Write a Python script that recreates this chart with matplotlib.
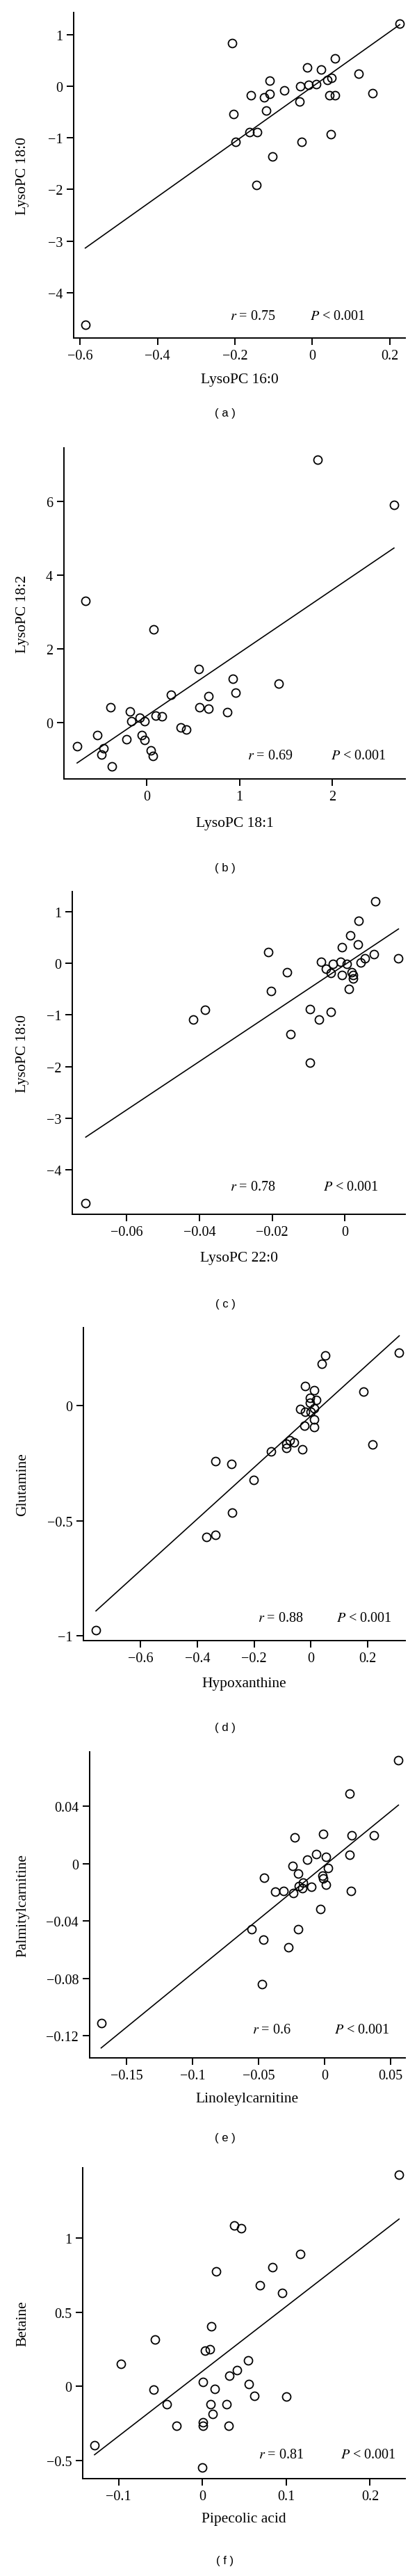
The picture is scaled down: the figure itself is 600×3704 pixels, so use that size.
import numpy as np
import matplotlib.pyplot as plt
from matplotlib.ticker import FuncFormatter

plt.rcParams['font.family'] = ['Liberation Serif', 'DejaVu Serif']
plt.rcParams['mathtext.fontset'] = 'stix'

# (a) LysoPC 16:0 vs LysoPC 18:0
a_x = [0.226, -0.208, 0.059, -0.0125, 0.023, 0.120, 0.049, 0.038, -0.110, 0.010,
       -0.010, -0.031, -0.072, -0.158, -0.111, -0.125, 0.044, 0.059, 0.156, -0.033,
       -0.120, -0.203, -0.163, -0.142, -0.199, -0.028, 0.047, -0.103, -0.144, -0.587]
a_y = [1.207, 0.839, 0.539, 0.363, 0.326, 0.244, 0.166, 0.114, 0.109, 0.036,
       0.026, -0.005, -0.088, -0.171, -0.155, -0.223, -0.171, -0.171, -0.135, -0.295,
       -0.472, -0.534, -0.886, -0.896, -1.078, -1.078, -0.927, -1.363, -1.917, -4.622]
a_fit = (5.32, -0.012)
a_r = '0.75'

# (b) LysoPC 18:1 vs LysoPC 18:2
b_x = [1.844, 2.668, -0.662, 0.075, 0.558, 0.925, 1.422, 0.960, 0.263, 0.665,
       -0.390, 0.566, 0.668, -0.185, 0.867, -0.081, 0.098, 0.165, -0.168, -0.026,
       0.367, 0.422, -0.535, -0.058, -0.223, -0.026, -0.754, -0.471, 0.040, -0.494,
       0.061, -0.376]
b_y = [7.135, 5.898, 3.295, 2.524, 1.447, 1.178, 1.055, 0.807, 0.749, 0.713,
       0.415, 0.415, 0.364, 0.291, 0.276, 0.131, 0.175, 0.160, 0.029, 0.029,
       -0.138, -0.189, -0.342, -0.342, -0.458, -0.480, -0.640, -0.713, -0.764, -0.880,
       -0.909, -1.200]
b_fit = (1.705, 0.183)
b_r = '0.69'

# (c) LysoPC 22:0 vs LysoPC 18:0
c_x = [0.00824, 0.00368, 0.00147, 0.00346, -0.00088, -0.0211, 0.00787, 0.0147, 0.0055, -0.00662,
       -0.00125, -0.0033, 0.00044, 0.0044, -0.0053, -0.0039, -0.0008, 0.0018, 0.0022, 0.0022,
       -0.016, 0.0011, -0.0204, -0.0385, -0.0418, -0.00956, -0.00713, -0.0039, -0.0149, -0.00956,
       -0.0713]
c_y = [1.197, 0.824, 0.539, 0.363, 0.316, 0.223, 0.176, 0.098, 0.098, 0.031,
       0.031, -0.010, -0.010, 0.010, -0.104, -0.192, -0.223, -0.171, -0.233, -0.295,
       -0.171, -0.497, -0.534, -0.907, -1.088, -0.886, -1.088, -0.938, -1.373, -1.927,
       -4.642]
c_fit = (46.87, -0.024)
c_r = '0.78'

# (d) Hypoxanthine vs Glutamine
d_x = [0.311, 0.050, 0.0386, -0.0198, 0.0104, 0.185, -0.0028, 0.0189, -0.0028, -0.0368,
       0.0123, -0.0198, -0.0009, 0.0104, -0.0236, 0.0104, -0.0735, -0.0594, -0.0877, -0.0867,
       -0.0302, 0.2168, -0.1414, -0.3374, -0.2809, -0.2017, -0.278, -0.336, -0.3676, -0.7578]
d_y = [0.231, 0.219, 0.181, 0.086, 0.066, 0.062, 0.034, 0.024, 0.012, -0.013,
       -0.010, -0.026, -0.027, -0.059, -0.088, -0.093, -0.151, -0.158, -0.165, -0.183,
       -0.191, -0.167, -0.198, -0.241, -0.252, -0.324, -0.465, -0.562, -0.570, -0.977]
d_fit = (1.119, -0.044)
d_r = '0.88'

# (e) Linoleylcarnitine vs Palmitylcarnitine
e_x = [0.0561, 0.0190, -0.0012, 0.0209, 0.0375, -0.0223, -0.0063, 0.0190, 0.0012, -0.0128,
       -0.0241, 0.0030, -0.0197, -0.0016, -0.0010, -0.0458, -0.0160, 0.0010, -0.0195, -0.0168,
       -0.0099, -0.0375, -0.0312, -0.0237, 0.0201, -0.0030, -0.0551, -0.0197, -0.0464, -0.0274,
       -0.0474, -0.1692]
e_y = [0.0724, 0.0492, 0.0207, 0.0198, 0.0200, 0.0186, 0.0065, 0.0060, 0.0050, 0.0030,
       -0.0017, -0.0030, -0.0069, -0.0082, -0.0103, -0.0099, -0.0131, -0.0147, -0.0157, -0.0170,
       -0.0162, -0.0194, -0.0188, -0.0205, -0.0188, -0.0317, -0.0459, -0.0459, -0.0532, -0.0584,
       -0.0841, -0.1112]
e_fit = (0.7528, -0.0013)
e_r = '0.6'

# (f) Pipecolic acid vs Betaine
f_x = [0.2346, 0.0383, 0.0463, 0.1171, 0.0836, 0.0163, 0.0686, 0.0954, 0.0105, -0.0565,
       0.0035, 0.0089, -0.0967, 0.0549, 0.0415, 0.0319, 0.0010, 0.0552, -0.0578, 0.0150,
       0.0619, 0.0999, -0.0428, 0.0102, 0.0290, 0.0121, 0.0006, 0.0006, -0.0306, 0.0313,
       -0.1286, -0.0003]
f_y = [1.428, 1.082, 1.066, 0.891, 0.805, 0.774, 0.681, 0.632, 0.403, 0.315,
       0.241, 0.249, 0.151, 0.175, 0.112, 0.070, 0.029, 0.018, -0.023, -0.018,
       -0.065, -0.070, -0.121, -0.119, -0.121, -0.184, -0.240, -0.265, -0.265, -0.265,
       -0.398, -0.544]
f_fit = (4.371, 0.102)
f_r = '0.81'

x_names = ['LysoPC 16:0', 'LysoPC 18:1', 'LysoPC 22:0', 'Hypoxanthine', 'Linoleylcarnitine', 'Pipecolic acid']
y_names = ['LysoPC 18:0', 'LysoPC 18:2', 'LysoPC 18:0', 'Glutamine', 'Palmitylcarnitine', 'Betaine']
panel_tags = ['( a )', '( b )', '( c )', '( d )', '( e )', '( f )']

x_ticks = [[-0.6, -0.4, -0.2, 0, 0.2], [0, 1, 2], [-0.06, -0.04, -0.02, 0],
           [-0.6, -0.4, -0.2, 0, 0.2], [-0.15, -0.1, -0.05, 0, 0.05], [-0.1, 0, 0.1, 0.2]]
y_ticks = [[-4, -3, -2, -1, 0, 1], [0, 2, 4, 6], [-4, -3, -2, -1, 0, 1],
           [-1, -0.5, 0], [-0.12, -0.08, -0.04, 0, 0.04], [-0.5, 0, 0.5, 1]]

xs = [a_x, b_x, c_x, d_x, e_x, f_x]
ys = [a_y, b_y, c_y, d_y, e_y, f_y]
fits = [a_fit, b_fit, c_fit, d_fit, e_fit, f_fit]
rs = [a_r, b_r, c_r, d_r, e_r, f_r]

# layout in pixels: axes box (left, top, right, bottom), limits, text spots
boxes = [(106, 19, 583, 487), (92, 645, 583, 1121), (104, 1283, 583, 1747),
         (120, 1910, 583, 2360), (129, 2520, 583, 2960), (119, 3118, 583, 3565)]
xlims = [(-0.617, 0.240), (-0.896, 2.789), (-0.075, 0.01654),
         (-0.802, 0.332), (-0.1779, 0.0612), (-0.1427, 0.2419)]
ylims = [(-4.876, 1.425), (-1.535, 7.45), (-4.860, 1.389),
         (-1.021, 0.3395), (-0.1356, 0.0781), (-0.621, 1.473)]
r_pos = [(331, 456), (356, 1087), (331, 1708), (371, 2328), (363, 2920), (372, 3531)]
p_pos = [(446, 456), (476, 1087), (465, 1708), (484, 2328), (481, 2920), (490, 3531)]
xlab_y = [546, 1185, 1810, 2422, 3019, 3623]
tag_y = [594, 1249, 1876, 2484, 3075, 3683]

W, H = 600, 3705
fig = plt.figure(figsize=(W / 100, H / 100), dpi=100)


def fmt(v, _):
    return ('%g' % (round(v, 6) + 0.0)).replace('-', '\u2212')


for i in range(6):
    l, t, r, b = boxes[i]
    ax = fig.add_axes([l / W, 1 - b / H, (r - l) / W, (b - t) / H])
    x = np.array(xs[i])
    y = np.array(ys[i])
    ax.plot(x, y, 'o', mfc='none', mec='black', ms=8.6, mew=1.3, ls='none')
    slope, icpt = fits[i]
    xl = np.array([x.min(), x.max()])
    ax.plot(xl, slope * xl + icpt, color='black', lw=1.2)

    ax.set_xlim(*xlims[i])
    ax.set_ylim(*ylims[i])
    ax.set_xticks(x_ticks[i])
    ax.set_yticks(y_ticks[i])
    ax.xaxis.set_major_formatter(FuncFormatter(fmt))
    ax.yaxis.set_major_formatter(FuncFormatter(fmt))
    ax.spines['top'].set_visible(False)
    ax.spines['right'].set_visible(False)
    for s in ['left', 'bottom']:
        ax.spines[s].set_linewidth(1.4)
    ax.tick_params(direction='out', length=7.5, width=1.4, labelsize=14.5, pad=4)

    fig.text(33 / W, 1 - (t + b) / 2 / H, y_names[i], rotation=90,
             ha='center', va='center', fontsize=15.5)
    fig.text((l + r) / 2 / W, 1 - xlab_y[i] / H, x_names[i],
             ha='center', va='center', fontsize=15.5)
    fig.text(r_pos[i][0] / W, 1 - r_pos[i][1] / H, '$r$ = ' + rs[i],
             ha='left', va='center', fontsize=14.5)
    fig.text(p_pos[i][0] / W, 1 - p_pos[i][1] / H, '$P$ < 0.001',
             ha='left', va='center', fontsize=14.5)
    fig.text(324 / W, 1 - tag_y[i] / H, panel_tags[i], family='Liberation Sans',
             ha='center', va='center', fontsize=12)

plt.savefig('out.png', dpi=100)
